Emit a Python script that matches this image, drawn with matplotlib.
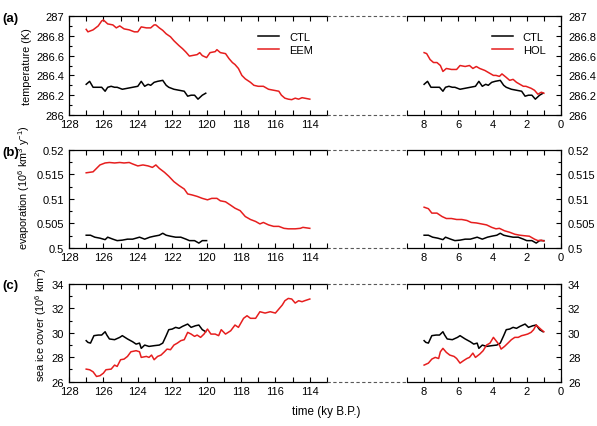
import matplotlib
matplotlib.use('Agg')
import matplotlib.pyplot as plt
import numpy as np
from matplotlib.ticker import MultipleLocator, FuncFormatter
from matplotlib.lines import Line2D

plt.rcParams['font.family'] = ['Liberation Sans', 'DejaVu Sans']
plt.rcParams['mathtext.fontset'] = 'custom'
plt.rcParams['mathtext.rm'] = 'Liberation Sans'
plt.rcParams['font.size'] = 8

# CTL run: (ky since start of run, value); shown once in each time window
ctl_temp = [(0.0, 286.31), (0.2, 286.34), (0.4, 286.28), (0.7, 286.28), (0.9, 286.28), (1.1, 286.24),
            (1.25, 286.28), (1.45, 286.29), (1.65, 286.28), (1.8, 286.28), (2.1, 286.26), (2.4, 286.27),
            (2.7, 286.28), (3.0, 286.29), (3.2, 286.34), (3.4, 286.29), (3.6, 286.31), (3.75, 286.30),
            (3.95, 286.33), (4.15, 286.34), (4.45, 286.35), (4.65, 286.30), (4.8, 286.28), (5.1, 286.26),
            (5.4, 286.25), (5.7, 286.24), (5.9, 286.19), (6.1, 286.2), (6.3, 286.2), (6.5, 286.16),
            (6.75, 286.2), (6.95, 286.22)]
ctl_evap = [(0.0, 0.5026), (0.25, 0.5026), (0.5, 0.5022), (0.8, 0.502), (1.1, 0.5017), (1.25, 0.5022),
            (1.55, 0.5018), (1.8, 0.5015), (2.1, 0.5016), (2.4, 0.5018), (2.7, 0.5018), (3.1, 0.5022),
            (3.4, 0.5018), (3.7, 0.5022), (3.95, 0.5024), (4.25, 0.5026), (4.45, 0.503), (4.65, 0.5026),
            (4.9, 0.5024), (5.2, 0.5022), (5.5, 0.5022), (5.8, 0.5018), (6.0, 0.5015), (6.3, 0.5015),
            (6.55, 0.501), (6.75, 0.5015), (7.0, 0.5015)]
ctl_ice = [(0.0, 29.36), (0.1, 29.22), (0.25, 29.16), (0.45, 29.77), (0.7, 29.82), (0.9, 29.82),
           (1.1, 30.09), (1.2, 29.82), (1.35, 29.5), (1.65, 29.44), (1.95, 29.63), (2.1, 29.77),
           (2.4, 29.5), (2.7, 29.27), (2.9, 29.08), (3.1, 29.16), (3.2, 28.73), (3.4, 29.0),
           (3.65, 28.89), (3.95, 28.95), (4.25, 29.0), (4.45, 29.16), (4.65, 29.77), (4.8, 30.26),
           (5.0, 30.31), (5.2, 30.45), (5.4, 30.37), (5.6, 30.53), (5.9, 30.72), (6.1, 30.45),
           (6.35, 30.58), (6.55, 30.64), (6.75, 30.26), (6.95, 30.09)]

# EEM run: (ky B.P., value)
eem_temp = [(127.0, 286.865), (126.9, 286.84), (126.6, 286.86), (126.3, 286.9), (126.1, 286.95),
            (126.0, 286.96), (125.75, 286.92), (125.45, 286.91), (125.25, 286.88), (125.05, 286.9),
            (124.8, 286.87), (124.5, 286.86), (124.2, 286.84), (124.0, 286.84), (123.8, 286.89),
            (123.5, 286.88), (123.25, 286.88), (123.05, 286.91), (122.95, 286.91), (122.75, 286.88),
            (122.55, 286.855), (122.35, 286.82), (122.1, 286.79), (121.9, 286.75), (121.6, 286.70),
            (121.4, 286.67), (121.2, 286.635), (121.0, 286.595), (120.85, 286.6), (120.55, 286.61),
            (120.4, 286.63), (120.25, 286.6), (120.0, 286.58), (119.8, 286.63), (119.5, 286.64),
            (119.4, 286.66), (119.2, 286.63), (118.9, 286.62), (118.7, 286.57), (118.5, 286.53),
            (118.35, 286.51), (118.15, 286.47), (117.95, 286.40), (117.75, 286.365), (117.45, 286.33),
            (117.25, 286.30), (117.0, 286.29), (116.7, 286.29), (116.4, 286.26), (116.1, 286.25),
            (115.8, 286.24), (115.65, 286.2), (115.45, 286.17), (115.25, 286.16), (115.05, 286.155),
            (114.85, 286.17), (114.65, 286.16), (114.45, 286.175), (114.3, 286.17), (114.0, 286.16)]
eem_evap = [(127.0, 0.5153), (126.8, 0.5154), (126.6, 0.5155), (126.4, 0.5162), (126.2, 0.5169),
            (125.9, 0.5173), (125.65, 0.5174), (125.35, 0.5173), (125.05, 0.5174), (124.8, 0.5173),
            (124.5, 0.5174), (124.3, 0.5171), (124.0, 0.5167), (123.7, 0.5169), (123.4, 0.5167),
            (123.15, 0.5164), (122.95, 0.5169), (122.75, 0.5162), (122.45, 0.5154), (122.2, 0.5146),
            (121.9, 0.5135), (121.6, 0.5127), (121.3, 0.512), (121.1, 0.511), (120.85, 0.5108),
            (120.55, 0.5105), (120.25, 0.5101), (119.95, 0.5098), (119.7, 0.5101), (119.4, 0.5101),
            (119.2, 0.5096), (118.9, 0.5094), (118.6, 0.5087), (118.35, 0.5081), (118.05, 0.5076),
            (117.75, 0.5064), (117.45, 0.5058), (117.15, 0.5054), (116.9, 0.5049), (116.7, 0.5052),
            (116.4, 0.5047), (116.1, 0.5044), (115.8, 0.5044), (115.5, 0.504), (115.25, 0.5039),
            (114.85, 0.5039), (114.55, 0.504), (114.4, 0.5042), (114.0, 0.504)]
eem_ice = [(127.0, 27.03), (126.8, 26.98), (126.6, 26.81), (126.4, 26.43), (126.2, 26.49), (126.0, 26.7),
           (125.85, 26.98), (125.55, 27.03), (125.35, 27.36), (125.2, 27.25), (125.0, 27.8), (124.8, 27.85),
           (124.6, 28.07), (124.4, 28.45), (124.1, 28.54), (123.9, 28.45), (123.8, 27.99), (123.5, 28.07),
           (123.35, 27.99), (123.2, 28.18), (123.05, 27.8), (122.85, 28.07), (122.65, 28.18), (122.45, 28.45),
           (122.3, 28.67), (122.1, 28.62), (121.9, 29.0), (121.7, 29.16), (121.5, 29.36), (121.3, 29.44),
           (121.1, 30.04), (120.9, 29.9), (120.7, 29.71), (120.55, 29.82), (120.35, 29.63), (120.15, 29.9),
           (119.95, 30.31), (119.75, 29.9), (119.5, 29.9), (119.3, 29.77), (119.15, 30.26), (118.9, 29.9),
           (118.6, 30.17), (118.35, 30.64), (118.15, 30.45), (117.85, 31.19), (117.65, 31.4), (117.45, 31.19),
           (117.15, 31.19), (116.9, 31.73), (116.6, 31.62), (116.3, 31.73), (116.0, 31.62), (115.8, 31.95),
           (115.6, 32.28), (115.45, 32.63), (115.25, 32.82), (115.05, 32.77), (114.85, 32.44), (114.65, 32.63),
           (114.45, 32.55), (114.3, 32.63), (114.0, 32.77)]

# HOL run: (ky B.P., value)
hol_temp = [(8.0, 286.63), (7.85, 286.62), (7.65, 286.56), (7.45, 286.53), (7.25, 286.53), (7.05, 286.5),
            (6.9, 286.44), (6.7, 286.47), (6.4, 286.46), (6.1, 286.46), (5.9, 286.5), (5.6, 286.49),
            (5.35, 286.5), (5.15, 286.47), (4.95, 286.49), (4.75, 286.47), (4.45, 286.45), (4.25, 286.43),
            (3.95, 286.4), (3.8, 286.4), (3.6, 286.39), (3.45, 286.415), (3.2, 286.38), (3.0, 286.35),
            (2.8, 286.36), (2.6, 286.33), (2.4, 286.31), (2.2, 286.29), (2.05, 286.29), (1.75, 286.27),
            (1.55, 286.25), (1.35, 286.21), (1.15, 286.23), (1.0, 286.22)]
hol_evap = [(8.0, 0.5083), (7.75, 0.508), (7.55, 0.5071), (7.25, 0.5071), (6.95, 0.5064), (6.7, 0.506),
            (6.4, 0.506), (6.1, 0.5058), (5.8, 0.5058), (5.5, 0.5056), (5.25, 0.5052), (4.95, 0.5051),
            (4.65, 0.5049), (4.35, 0.5047), (4.05, 0.5042), (3.8, 0.5039), (3.6, 0.504), (3.3, 0.5035),
            (3.0, 0.5032), (2.7, 0.5028), (2.4, 0.5026), (2.15, 0.5025), (1.85, 0.5024), (1.55, 0.5018),
            (1.35, 0.5015), (1.15, 0.5016), (1.0, 0.5014)]
hol_ice = [(8.0, 27.36), (7.75, 27.52), (7.55, 27.85), (7.35, 27.99), (7.15, 27.9), (7.05, 28.45),
           (6.9, 28.73), (6.7, 28.4), (6.5, 28.18), (6.25, 28.07), (6.1, 27.9), (5.9, 27.52), (5.7, 27.72),
           (5.5, 27.9), (5.35, 27.99), (5.15, 28.34), (5.0, 27.99), (4.75, 28.26), (4.55, 28.54),
           (4.35, 29.0), (4.15, 29.16), (3.95, 29.63), (3.8, 29.36), (3.6, 29.0), (3.5, 28.67),
           (3.3, 28.89), (3.1, 29.16), (2.9, 29.44), (2.7, 29.63), (2.5, 29.63), (2.3, 29.77),
           (2.15, 29.82), (1.95, 29.9), (1.75, 30.04), (1.6, 30.26), (1.45, 30.64), (1.3, 30.45),
           (1.15, 30.26), (1.0, 30.09)]

eem_start = 127
hol_start = 8

panels = [
    ('(a)', 'temperature (K)', (286, 287), 0.2, 0.1, ctl_temp, eem_temp, hol_temp),
    ('(b)', 'evaporation (10$^{6}$ km$^{3}$ y$^{-1}$)', (0.5, 0.52), 0.005, 0.0025, ctl_evap, eem_evap, hol_evap),
    ('(c)', 'sea ice cover (10$^{6}$ km$^{2}$)', (26, 34), 2, 1, ctl_ice, eem_ice, hol_ice),
]

W, H = 597, 427
LEFT = (69 / W, 258 / W)
RIGHT = (407 / W, 154 / W)
ROWS = [(17, 116), (150.7, 249), (285, 382.7)]
ylab_pos = [(-0.143, 0.5), (-0.143, 0.626), (-0.079, 0.59)]
tag_y = [19, 153, 286]
RED = '#e61e1e'


def setup(ax, side, ylim, major, minor):
    ax.set_ylim(ylim)
    ax.yaxis.set_major_locator(MultipleLocator(major))
    ax.yaxis.set_minor_locator(MultipleLocator(minor))
    ax.yaxis.set_major_formatter(FuncFormatter(lambda v, p: '%g' % round(v, 4)))
    ax.xaxis.set_major_locator(MultipleLocator(2))
    ax.xaxis.set_minor_locator(MultipleLocator(1))
    ax.tick_params(which='both', direction='in', top=True, width=0.8, labelsize=8)
    ax.tick_params(axis='x', which='both', length=3.5, pad=3.2)
    ax.tick_params(axis='y', which='major', length=3.5)
    ax.tick_params(axis='y', which='minor', length=2.2)
    for s in ax.spines.values():
        s.set_linewidth(0.9)
    if side == 'left':
        ax.set_xlim(128, 113)
        ax.spines['right'].set_visible(False)
        ax.tick_params(axis='y', which='both', left=True, right=False, pad=3.4)
    else:
        ax.set_xlim(9, 0)
        ax.spines['left'].set_visible(False)
        ax.tick_params(axis='y', which='both', left=False, right=True,
                       labelleft=False, labelright=True, pad=5)


def plot():
    fig = plt.figure(figsize=(W / 100, H / 100), dpi=100)
    for i, (tag, ylabel, ylim, major, minor, ctl, eem, hol) in enumerate(panels):
        top, bot = ROWS[i]
        b = 1 - bot / H
        h = (bot - top) / H
        axl = fig.add_axes([LEFT[0], b, LEFT[1], h])
        axr = fig.add_axes([RIGHT[0], b, RIGHT[1], h])
        setup(axl, 'left', ylim, major, minor)
        setup(axr, 'right', ylim, major, minor)

        c = np.array(ctl)
        e = np.array(eem)
        o = np.array(hol)
        axl.plot(eem_start - c[:, 0], c[:, 1], color='black', lw=1.1, label='CTL')
        axl.plot(e[:, 0], e[:, 1], color=RED, lw=1.1, label='EEM')
        axr.plot(hol_start - c[:, 0], c[:, 1], color='black', lw=1.1, label='CTL')
        axr.plot(o[:, 0], o[:, 1], color=RED, lw=1.1, label='HOL')

        axl.set_ylabel(ylabel, fontsize=7.8)
        axl.yaxis.set_label_coords(*ylab_pos[i])
        fig.text(0.004, 1 - tag_y[i] / H, tag, fontsize=9.5, fontweight='bold',
                 ha='left', va='center')

        if i == 0:
            for ax, x in ((axl, 0.945), (axr, 0.90)):
                ax.legend(loc='upper right', bbox_to_anchor=(x, 0.84), frameon=False,
                          fontsize=8, handlelength=1.9, handletextpad=0.9,
                          labelspacing=0.3, borderpad=0, borderaxespad=0)

        # dashed break lines between the two windows
        x0 = LEFT[0] + LEFT[1]
        x1 = RIGHT[0]
        for y in (b, b + h):
            fig.add_artist(Line2D([x0, x1], [y, y], transform=fig.transFigure,
                                  ls=(0, (3, 2.2)), lw=0.8, color='0.35'))

    fig.text(326 / W, 1 - 412 / H, 'time (ky B.P.)', fontsize=8.4, ha='center', va='center')
    fig.savefig('out.png', dpi=100)


plot()
